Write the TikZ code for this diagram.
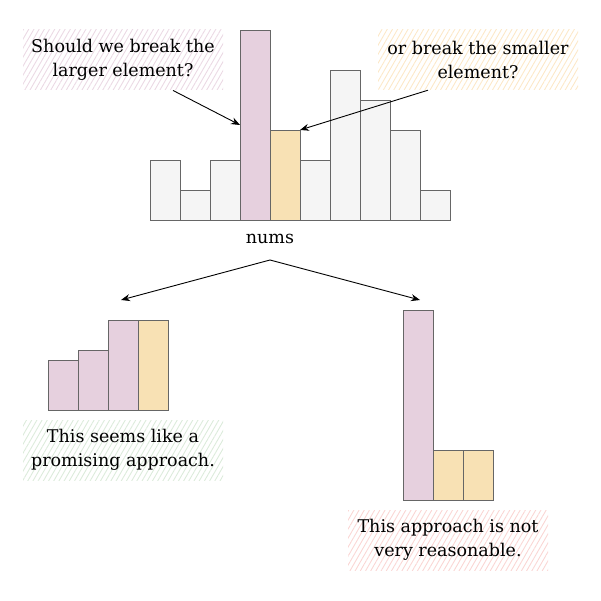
\documentclass[tikz,border=0pt]{standalone}
\usepackage{fontspec}
\setmainfont{DejaVu Serif}
\usetikzlibrary{patterns.meta,arrows.meta}
\definecolor{grayfill}{HTML}{F5F5F5}
\definecolor{barline}{HTML}{666666}
\definecolor{pinkfill}{HTML}{E6D0DE}
\definecolor{yellowfill}{HTML}{F8E1B4}
\definecolor{hatchpink}{HTML}{EBD9E4}
\definecolor{hatchyellow}{HTML}{FCE8C8}
\definecolor{hatchgreen}{HTML}{DCEBDB}
\definecolor{hatchred}{HTML}{FAD6D4}
\begin{document}
\begin{tikzpicture}[x=1pt,y=-1pt,
  bar/.style={draw=barline, line width=0.9pt, inner sep=0pt, outer sep=0pt, minimum width=30pt, anchor=south west},
  gbar/.style={bar, fill=grayfill},
  pbar/.style={bar, fill=pinkfill},
  ybar/.style={bar, fill=yellowfill},
  txt/.style={font=\fontsize{17.5}{24}\selectfont, align=center, inner sep=0pt},
  hatchbox/.style={txt, minimum width=200pt, minimum height=60pt, pattern={Lines[angle=60,distance=4.5pt,line width=0.9pt]}},
  arr/.style={-{Stealth[length=9pt,width=7pt]}, line width=0.9pt}]
\useasboundingbox (0,0) rectangle (600,601);
% top histogram
\node[gbar, minimum height=60pt]  (b1)  at (150,220) {};
\node[gbar, minimum height=30pt]  (b2)  at (180,220) {};
\node[gbar, minimum height=60pt]  (b3)  at (210,220) {};
\node[pbar, minimum height=190pt] (b4)  at (240,220) {};
\node[ybar, minimum height=90pt]  (b5)  at (270,220) {};
\node[gbar, minimum height=60pt]  (b6)  at (300,220) {};
\node[gbar, minimum height=150pt] (b7)  at (330,220) {};
\node[gbar, minimum height=120pt] (b8)  at (360,220) {};
\node[gbar, minimum height=90pt]  (b9)  at (390,220) {};
\node[gbar, minimum height=30pt]  (b10) at (420,220) {};
\node[txt] (nums) at (270,239) {nums};
% callouts
\node[hatchbox, pattern color=hatchpink] (lq) at (123,60) {Should we break the\\larger element?};
\node[hatchbox, pattern color=hatchyellow] (rq) at (478,60) {or break the smaller\\element?};
\draw[arr] ([xshift=50pt]lq.south) -- (b4.west);
\draw[arr] ([xshift=-50pt]rq.south) -- (b5.north east);
% split arrows
\coordinate (split) at (270,260);
\coordinate (lt) at (121,300);
\coordinate (rt) at (420,300);
\draw[arr] (split) -- (lt);
\draw[arr] (split) -- (rt);
% left result
\node[pbar, minimum height=50pt] (l1) at (48,410) {};
\node[pbar, minimum height=60pt] (l2) at (78,410) {};
\node[pbar, minimum height=90pt] (l3) at (108,410) {};
\node[ybar, minimum height=90pt] (l4) at (138,410) {};
\node[hatchbox, pattern color=hatchgreen] (good) at (123,450) {This seems like a\\promising approach.};
% right result
\node[pbar, minimum height=190pt] (r1) at (403,500) {};
\node[ybar, minimum height=50pt]  (r2) at (433,500) {};
\node[ybar, minimum height=50pt]  (r3) at (463,500) {};
\node[hatchbox, pattern color=hatchred] (bad) at (448,540) {This approach is not\\very reasonable.};
\end{tikzpicture}
\end{document}
